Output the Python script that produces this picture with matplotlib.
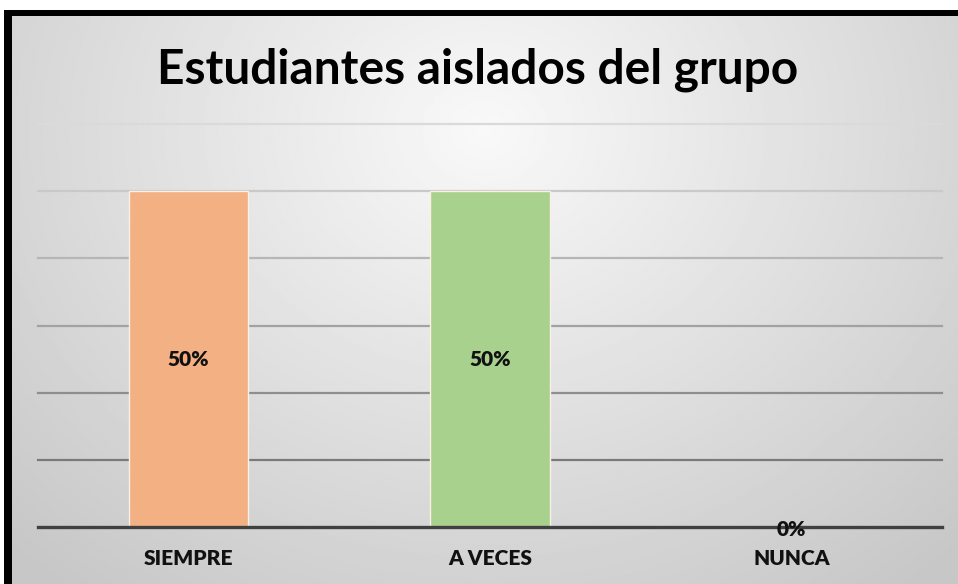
import numpy as np
import matplotlib
matplotlib.use('Agg')
import matplotlib.pyplot as plt

# data
categories = ['SIEMPRE', 'A VECES', 'NUNCA']
values = [0.50, 0.50, 0.0]
bar_colors = ['#F3B083', '#A8D18D', '#8FAADC']
grid_levels = [0.1, 0.2, 0.3, 0.4, 0.5, 0.6]
grid_colors = ['#7A7A7A', '#8E8E8E', '#A2A2A2', '#B6B6B6', '#C9C9C9', '#DADADA']
title = 'Estudiantes aislados del grupo'

W, H = 958, 584
fig = plt.figure(figsize=(W / 100, H / 100), dpi=100, facecolor='white')

# black frame (only top/left visible, rest is cropped)
frame = fig.add_axes([4 / W, 0, 1 - 4 / W, 1 - 10 / H])
frame.set_facecolor('black'); frame.set_xticks([]); frame.set_yticks([])
for s in frame.spines.values(): s.set_visible(False)

# gradient background
bg = fig.add_axes([12 / W, 0, 1 - 12 / W, 1 - 16 / H])
yy, xx = np.mgrid[0:1:300j, 0:1:500j]
r = np.sqrt(((xx - 0.5) / 0.7) ** 2 + ((yy - 0.2) / 1.0) ** 2)
shade = np.clip(0.975 - 0.19 * r, 0.78, 1.0)
bg.imshow(shade, cmap='gray', vmin=0, vmax=1, aspect='auto', extent=[0, 1, 1, 0])
bg.set_xticks([]); bg.set_yticks([])
for s in bg.spines.values(): s.set_visible(False)

# main plot
ax = fig.add_axes([38 / W, 57 / H, (942 - 38) / W, (527 - 124) / H])
ax.patch.set_alpha(0)
x = np.arange(len(categories))
ax.bar(x, values, width=0.395, color=bar_colors, edgecolor='#FBEFE6', linewidth=1.0, zorder=3)
for lvl, c in zip(grid_levels, grid_colors):
    ax.axhline(lvl, color=c, lw=1.6, zorder=1, clip_on=False)
ax.axhline(0, color='#404040', lw=2.4, zorder=4, clip_on=False)
ax.set_xlim(-0.5, 2.5)
ax.set_ylim(0, 0.6)
ax.set_yticks([])
ax.set_xticks(x)
ax.set_xticklabels(categories, fontfamily='Lato', fontweight='heavy', fontsize=15, color='#111111')
ax.tick_params(axis='x', length=0, pad=16)
for s in ax.spines.values(): s.set_visible(False)

for xi, v in zip(x, values):
    ypos = v / 2 if v > 0 else -0.004
    ax.text(xi, ypos, f'{v:.0%}', ha='center', va='center', fontfamily='Lato',
            fontweight='heavy', fontsize=15, color='#111111', zorder=5)

fig.text(478 / W, 1 - 70 / H, title, ha='center', va='center', fontfamily='Lato',
         fontweight='bold', fontsize=34.5, color='black')

fig.savefig('out.png', dpi=100)
